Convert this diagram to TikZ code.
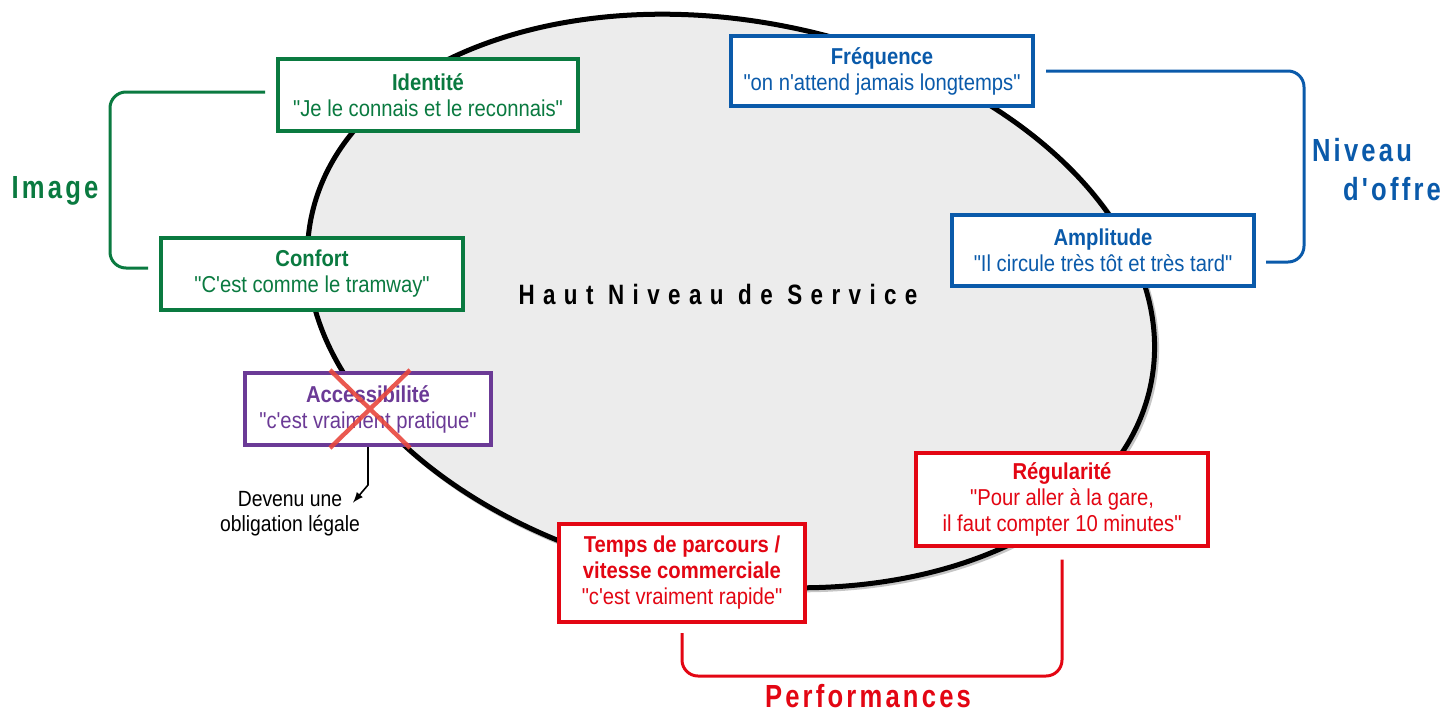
\documentclass[tikz,border=0pt]{standalone}
\usepackage{fontspec}
\usepackage{xcolor}
\usetikzlibrary{shadows}
\setmainfont{Liberation Sans}
\newfontfamily\cond[FakeStretch=0.88]{Liberation Sans}
\newfontfamily\wide[FakeStretch=0.8,LetterSpace=10]{Liberation Sans}
\newfontfamily\wider[FakeStretch=0.8,LetterSpace=30]{Liberation Sans}
\definecolor{imgcol}{RGB}{10,122,64}
\definecolor{offcol}{RGB}{10,90,170}
\definecolor{acccol}{RGB}{107,58,150}
\definecolor{perfcol}{RGB}{227,6,19}
\definecolor{crosscol}{RGB}{232,71,61}

\begin{document}
\begin{tikzpicture}[x=0.5pt,y=-0.5pt,
critere/.style={rectangle,draw=#1,text=#1,fill=white,line width=2pt,align=center,inner sep=2pt,
    font=\cond\fontsize{11.5}{13}\selectfont,
    drop shadow={shadow xshift=1pt,shadow yshift=-1pt,fill=black!35}},
groupe/.style={draw=#1,line width=1.5pt,rounded corners=8pt},
titre/.style={text=#1,font=\wide\bfseries\fontsize{16}{19}\selectfont}]
\useasboundingbox (0,0) rectangle (1451,713);
\draw[gray!45,line width=2.5pt,rotate around={-11:(733,303)}] (733,303) ellipse [x radius=428, y radius=280];
\draw[black,fill=gray!15,line width=2.5pt,rotate around={-11:(731,301)}] (731,301) ellipse [x radius=428, y radius=280];
\node[font=\wider\bfseries\fontsize{14}{16}\selectfont] (hns) at (718,294) {Haut Niveau de Service};

\node[critere=imgcol,minimum width=150pt,minimum height=36pt] (identite) at (428,95)
    {\textbf{Identité}\\"Je le connais et le reconnais"};
\node[critere=imgcol,minimum width=151pt,minimum height=36pt] (confort) at (312,274)
    {\textbf{Confort}\\"C'est comme le tramway"};
\node[critere=offcol,minimum width=151pt,minimum height=35pt] (frequence) at (882,71)
    {\textbf{Fréquence}\\"on n'attend jamais longtemps"};
\node[critere=offcol,minimum width=151pt,minimum height=35.5pt] (amplitude) at (1103,250)
    {\textbf{Amplitude}\\"Il circule très tôt et très tard"};
\node[critere=acccol,minimum width=123pt,minimum height=36pt] (access) at (368,409)
    {\textbf{Accessibilité}\\"c'est vraiment pratique"};
\node[critere=perfcol,minimum width=146pt,minimum height=46.5pt] (regul) at (1062,499)
    {\textbf{Régularité}\\"Pour aller à la gare,\\il faut compter 10 minutes"};
\node[critere=perfcol,minimum width=123pt,minimum height=49pt] (temps) at (682,573)
    {\textbf{Temps de parcours /}\\\textbf{vitesse commerciale}\\"c'est vraiment rapide"};

\draw[crosscol,line width=2.2pt,opacity=0.9] (330,370) -- (410,448) (410,370) -- (330,448);

\draw[groupe=imgcol] ([xshift=-5.5pt,yshift=1.5pt]identite.west) -- ++(-155,0) |- ([xshift=-5.5pt,yshift=3pt]confort.west);
\draw[groupe=offcol] ([xshift=5.5pt]frequence.east) -- ++(258,0) |- ([xshift=5pt,yshift=-6pt]amplitude.east);
\draw[groupe=perfcol] ([yshift=-4.5pt]temps.south) -- ++(0,43) -| ([yshift=-6pt]regul.south);

\node[titre=imgcol] (image) at (55,191) {Image};
\node[titre=offcol] (niveau) at (1362,150) {Niveau};
\node[titre=offcol] (offre) at (1392,189) {d'offre};
\node[titre=perfcol] (perf) at (868,696) {Performances};

\node[font=\cond\fontsize{11}{12.5}\selectfont,align=center] (devenu) at (290,514) {Devenu une\\obligation légale};
\draw[-latex,line width=0.8pt] (access.south) -- ++(0,38) -- ([shift={(-14,18)}]devenu.north east);
\end{tikzpicture}
\end{document}
